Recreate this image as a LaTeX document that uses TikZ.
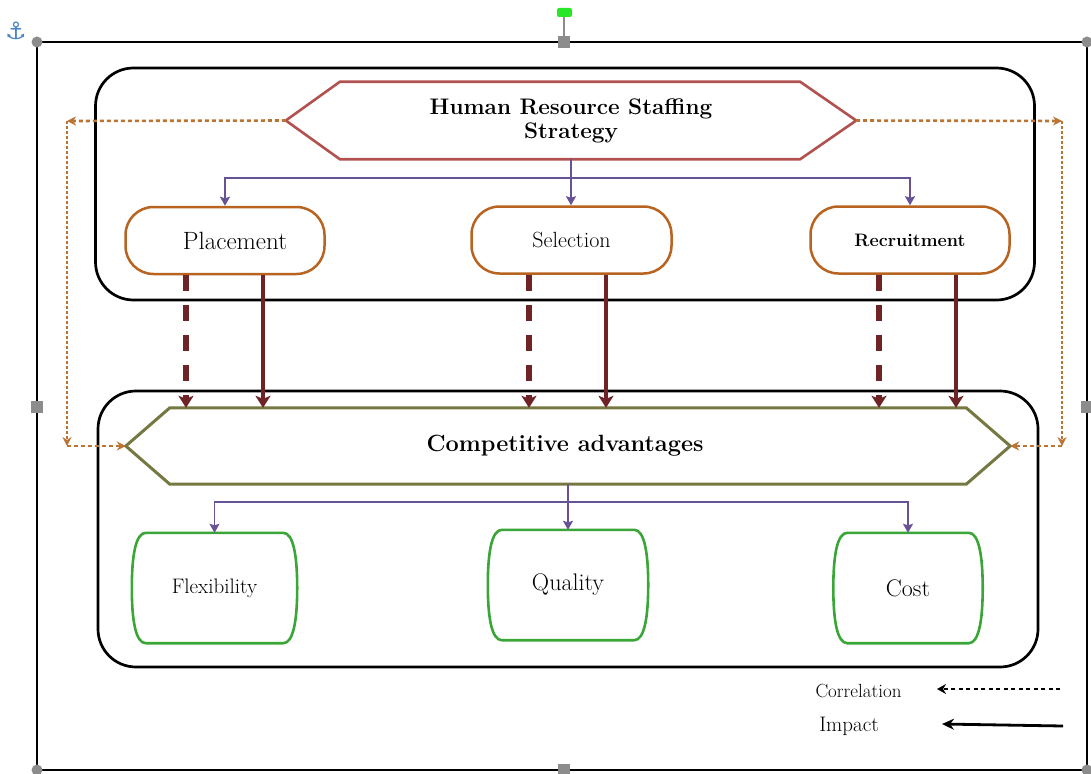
\documentclass[tikz,border=0pt]{standalone}
\usepackage{fontspec}
\newfontfamily\dejavu{DejaVu Sans}
\usetikzlibrary{arrows.meta}
\definecolor{hrred}{RGB}{178,82,80}
\definecolor{boxorange}{RGB}{184,100,32}
\definecolor{caolive}{RGB}{118,120,66}
\definecolor{gboxgreen}{RGB}{58,166,56}
\definecolor{lpurple}{RGB}{104,82,150}
\definecolor{darkred}{RGB}{110,36,38}
\definecolor{dotorange}{RGB}{186,116,52}
\definecolor{handlegray}{RGB}{140,140,140}
\definecolor{anchorblue}{RGB}{70,130,200}
\definecolor{handlegreen}{RGB}{40,230,40}
\newcommand\barrelshape[1]{%
  \draw[gbox] ([xshift=14pt]#1.north west) -- ([xshift=-14pt]#1.north east)
    .. controls ([xshift=-4pt]#1.north east) and ([yshift=33pt]#1.east) .. (#1.east)
    .. controls ([yshift=-33pt]#1.east) and ([xshift=-4pt]#1.south east) .. ([xshift=-14pt]#1.south east)
    -- ([xshift=14pt]#1.south west)
    .. controls ([xshift=4pt]#1.south west) and ([yshift=-33pt]#1.west) .. (#1.west)
    .. controls ([yshift=33pt]#1.west) and ([xshift=4pt]#1.north west) .. ([xshift=14pt]#1.north west)
    -- cycle;}
\begin{document}
\begin{tikzpicture}[x=1pt,y=-1pt,
  bigbox/.style={draw=black, line width=2.7pt, rounded corners=38pt, inner sep=0pt},
  pill/.style={draw=boxorange, line width=2.5pt, rounded corners=28pt, inner sep=0pt, minimum height=67pt},
  hidden/.style={inner sep=0pt, draw=none},
  hexred/.style={draw=hrred, line width=2.6pt, line join=miter},
  hexolive/.style={draw=caolive, line width=3pt, line join=miter},
  gbox/.style={draw=gboxgreen, line width=2.6pt},
  purp/.style={draw=lpurple, line width=1.6pt},
  purparrow/.style={purp, -{Stealth[width=10pt,length=9pt,inset=1.5pt]}},
  impact/.style={draw=darkred, line width=4.8pt, -{Stealth[width=15pt,length=12pt,inset=3pt]}},
  impactdash/.style={impact, line width=5.4pt, dash pattern=on 16pt off 14pt},
  corr/.style={draw=dotorange, line width=2.6pt, dash pattern=on 4pt off 3pt, -{Stealth[width=9pt,length=9pt]}},
  corrv/.style={corr, dash pattern=on 3pt off 2pt},
  legcorr/.style={draw=black, line width=2.4pt, dash pattern=on 4pt off 3.5pt, -{Stealth[width=10pt,length=9pt]}},
  legimp/.style={draw=black, line width=2.8pt, -{Stealth[width=11pt,length=12pt]}},
  handle/.style={fill=handlegray}
]
\useasboundingbox (0,0) rectangle (1091,773);
\fill[white] (0,0) rectangle (1091,773);

% editor frame and handles
\draw[line width=2.5pt] (37,42) rectangle (1087,770);
\draw[handlegray, line width=1.5pt] (564,15) -- (564,37);
\fill[handlegreen, rounded corners=2pt] (557,8) rectangle (572,17);
\fill[handle] (37,42) circle (5.5pt);
\fill[handle] (37,770) circle (5.5pt);
\fill[handle] (1087,42) circle (5.5pt);
\fill[handle] (1087,770) circle (5.5pt);
\fill[handle] (558,36) rectangle (570,48);
\fill[handle] (558,764) rectangle (570,776);
\fill[handle] (31,401) rectangle (43,413);
\fill[handle] (1081,401) rectangle (1093,413);
\node[text=anchorblue, font=\dejavu\fontsize{24}{24}\selectfont, inner sep=0pt] (anchor) at (16,31) {⚓};

% grouping boxes
\node[bigbox, minimum width=939pt, minimum height=232pt] (topbox) at (565,184) {};
\node[bigbox, minimum width=940pt, minimum height=276pt] (botbox) at (568,529) {};

% HR strategy hexagon
\node[hidden, minimum width=570pt, minimum height=77pt, align=center,
      font=\bfseries\fontsize{22.5}{24}\selectfont] (hr) at (571,120.5) {Human Resource Staffing\\Strategy};
\draw[hexred] (hr.west) -- ([xshift=54pt]hr.north west) -- ([xshift=-56pt]hr.north east) -- (hr.east)
  -- ([xshift=-56pt]hr.south east) -- ([xshift=54pt]hr.south west) -- cycle;

% staffing activities
\node[pill, minimum width=199pt, font=\fontsize{25}{27}\selectfont] (place) at (225,240.5) {\hspace*{20pt}Placement};
\node[pill, minimum width=200pt, font=\fontsize{22}{24}\selectfont] (sel) at (571.5,240) {Selection};
\node[pill, minimum width=199pt, font=\bfseries\fontsize{18}{20}\selectfont] (recr) at (910,240) {Recruitment};

% competitive advantages hexagon
\node[hidden, minimum width=884pt, minimum height=76pt,
      font=\bfseries\fontsize{23.5}{25}\selectfont] (ca) at (568,446) {\hspace*{-6pt}Competitive advantages};
\draw[hexolive] (ca.west) -- ([xshift=44pt]ca.north west) -- ([xshift=-44pt]ca.north east) -- (ca.east)
  -- ([xshift=-44pt]ca.south east) -- ([xshift=44pt]ca.south west) -- cycle;

% advantage dimensions
\node[hidden, minimum width=165pt, minimum height=110pt, font=\fontsize{21}{23}\selectfont] (flex) at (214.5,588) {Flexibility};
\node[hidden, minimum width=160pt, minimum height=110pt, font=\fontsize{24}{26}\selectfont] (qual) at (568,585) {Quality};
\node[hidden, minimum width=149pt, minimum height=110pt, font=\fontsize{24}{26}\selectfont] (cost) at (908,588) {Cost};
\barrelshape{flex}
\barrelshape{qual}
\barrelshape{cost}

% purple tree from HR strategy
\coordinate (hrj) at (571,178);
\draw[purp] (hr.south) -- (hrj);
\draw[purparrow] (hrj) -| (place.north);
\draw[purparrow] (hrj) -- (hrj |- sel.north);
\draw[purparrow] (hrj) -| (recr.north);

% purple tree from competitive advantages
\coordinate (caj) at (568,502);
\draw[purp] (ca.south) -- (caj);
\draw[purparrow] (caj) -| (flex.north);
\draw[purparrow] (caj) -- (qual.north);
\draw[purparrow] (caj) -| (cost.north);

% correlation (dashed) and impact (solid) arrows
\draw[impactdash] ([xshift=-39pt]place.south) -- ([xshift=-39pt]place.south |- ca.north);
\draw[impact]     ([xshift=38pt]place.south)  -- ([xshift=38pt]place.south |- ca.north);
\draw[impactdash] ([xshift=-42.5pt]sel.south) -- ([xshift=-42.5pt]sel.south |- ca.north);
\draw[impact]     ([xshift=34.5pt]sel.south)  -- ([xshift=34.5pt]sel.south |- ca.north);
\draw[impactdash] ([xshift=-31pt]recr.south)  -- ([xshift=-31pt]recr.south |- ca.north);
\draw[impact]     ([xshift=46pt]recr.south)   -- ([xshift=46pt]recr.south |- ca.north);

% outer correlation loops
\coordinate (cl1) at (67,121);
\coordinate (cl2) at (67,446);
\coordinate (cr1) at (1062,121);
\coordinate (cr2) at (1062,446);
\draw[corr]  (hr.west) -- (cl1);
\draw[corrv] (cl1) -- (cl2);
\draw[corr]  (cl2) -- (ca.west);
\draw[corr]  (hr.east) -- (cr1);
\draw[corrv] (cr1) -- (cr2);
\draw[corr]  (cr2) -- (ca.east);

% legend
\node[font=\fontsize{19}{21}\selectfont, inner sep=0pt] (corrlab) at (858.5,691.5) {Correlation};
\node[font=\fontsize{21}{23}\selectfont, inner sep=0pt] (implab) at (849,726.5) {Impact};
\coordinate (lc1) at (1060,689);
\coordinate (lc2) at (937,689);
\coordinate (li1) at (1063,726);
\coordinate (li2) at (942,724);
\draw[legcorr] (lc1) -- (lc2);
\draw[legimp] (li1) -- (li2);
\end{tikzpicture}
\end{document}
